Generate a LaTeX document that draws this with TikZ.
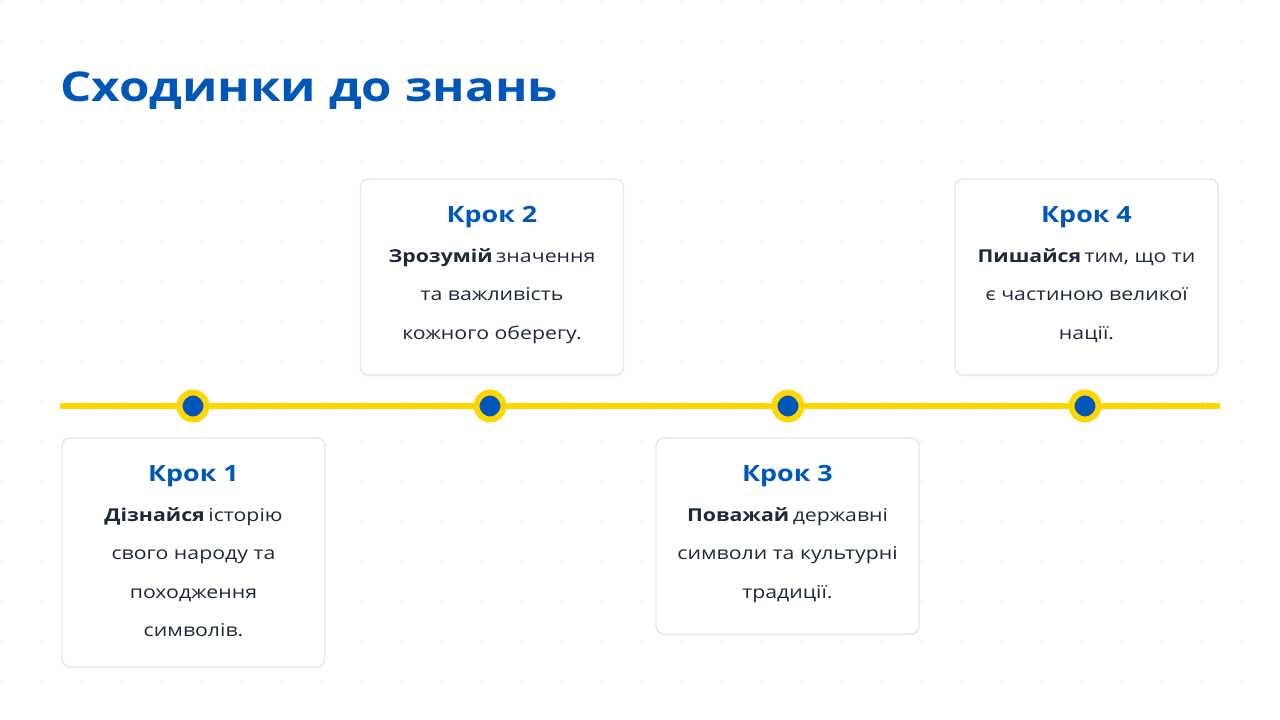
\documentclass[tikz,border=0pt]{standalone}
\usepackage{fontspec}
\setmainfont{Open Sans}[FakeStretch=1.2]
\usetikzlibrary{calc,shadows}

\definecolor{uablue}{HTML}{0057B8}
\definecolor{uayellow}{HTML}{FFD700}
\definecolor{ink}{HTML}{1E293B}
\definecolor{cardline}{HTML}{E3E8EF}
\definecolor{griddot}{HTML}{EEF0F3}

\tikzset{
  titletext/.style={anchor=base west, inner sep=0pt, text=uablue, font=\bfseries\fontsize{30.8}{36}\selectfont},
  card/.style={draw=cardline, line width=1.1pt, fill=white, rounded corners=6pt, inner sep=0pt,
    minimum width=197.25pt, drop shadow={opacity=0.06, shadow xshift=0pt, shadow yshift=-1.2pt}},
  marker/.style={circle, fill=uablue, draw=uayellow, line width=4.5pt, minimum size=20.25pt, inner sep=0pt},
  stephead/.style={anchor=base, inner sep=0pt, text=uablue, font=\bfseries\fontsize{16.8}{20}\selectfont},
  steptext/.style={anchor=base, inner sep=0pt, text=ink, font=\fontsize{13.3}{16}\selectfont},
}
\newcommand{\lead}[1]{\textbf{#1}\hspace{0.2em}}

\begin{document}
\begin{tikzpicture}[x=0.75pt, y=-0.75pt]
	% --- canvas and faint dot grid ---
	\useasboundingbox (0,0) rectangle (1280,720);
	\fill[white] (0,0) rectangle (1280,720);
	\foreach \i in {0,...,31} {
		\foreach \j in {0,...,17} {
			\fill[griddot] ({2+40*\i},{2+40*\j}) circle (1.3pt);
		}
	}

	% --- title ---
	\node[titletext] (title) at (60,102) {Сходинки до знань};

	% --- timeline with step markers ---
	\coordinate (lineL) at (60,406);
	\coordinate (lineR) at (1220,406);
	\draw[uayellow, line width=4.2pt] (lineL) -- (lineR);
	\foreach \x [count=\k] in {193,490,788,1085} {
		\node[marker] (dot\k) at (\x,406) {};
	}

	% --- step cards: odd below the line, even above ---
	\node[card, minimum height=171.75pt] (card1) at (193.5,552.5) {};
	\node[card, minimum height=147pt] (card2) at (492,277) {};
	\node[card, minimum height=147pt] (card3) at (787.5,536) {};
	\node[card, minimum height=147pt] (card4) at (1086.5,277) {};

	% --- card headings ---
	\foreach \k in {1,...,4} {
		\node[stephead] (head\k) at ($(card\k.north)+(0,44.5)$) {Крок \k};
	}

	% --- card texts, one node per line ---
	\foreach \line [count=\i] in {{\lead{Дізнайся}історію}, свого народу та, походження, символів.} {
		\node[steptext] (body1-\i) at ($(card1.north)+(0,{84+38.5*(\i-1)})$) {\line};
	}
	\foreach \line [count=\i] in {{\lead{Зрозумій}значення}, та важливість, кожного оберегу.} {
		\node[steptext] (body2-\i) at ($(card2.north)+(0,{84+38.5*(\i-1)})$) {\line};
	}
	\foreach \line [count=\i] in {{\lead{Поважай}державні}, символи та культурні, традиції.} {
		\node[steptext] (body3-\i) at ($(card3.north)+(0,{84+38.5*(\i-1)})$) {\line};
	}
	\foreach \line [count=\i] in {{\lead{Пишайся}тим, що ти}, є частиною великої, нації.} {
		\node[steptext] (body4-\i) at ($(card4.north)+(0,{84+38.5*(\i-1)})$) {\line};
	}
\end{tikzpicture}
\end{document}
